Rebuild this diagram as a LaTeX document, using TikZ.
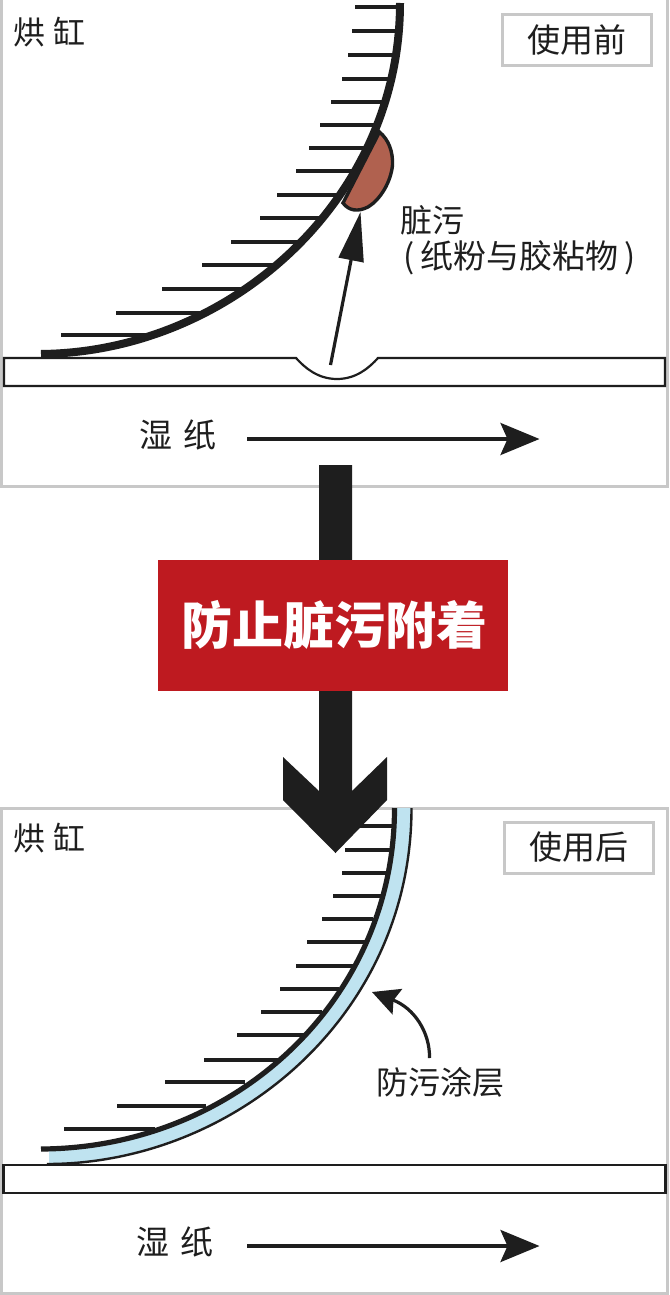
\documentclass[tikz,border=0pt]{standalone}
\usepackage{fontspec}
\setmainfont{Noto Sans CJK SC}
\usetikzlibrary{arrows.meta}
\definecolor{framegray}{HTML}{C8C8C8}
\definecolor{ink}{HTML}{1E1E1E}
\definecolor{dirt}{HTML}{B0614F}
\definecolor{banner}{HTML}{BE1A20}
\definecolor{coat}{HTML}{BFE3F0}
\tikzset{
  panel/.style={draw=framegray,line width=3pt,fill=white},
  tagbox/.style={draw=framegray,line width=3pt,fill=white},
  hatchline/.style={draw=ink,line width=3.2pt},
  paperstrip/.style={draw=ink,line width=2.4pt,fill=white},
  label/.style={inner sep=0pt,outer sep=0pt,text=ink,font=\fontsize{32}{32}\selectfont},
  biglabel/.style={label,font=\fontsize{33}{33}\selectfont},
  feed/.style={draw=ink,line width=3.5pt,-{Stealth[length=39pt,width=32pt,inset=7pt]}},
  lead/.style={draw=ink,line width=3.2pt},
}
\begin{document}
\begin{tikzpicture}[x=1pt,y=-1pt]
\useasboundingbox (0,0) rectangle (669,1295);
\fill[white] (0,0) rectangle (669,1295);
% ---------- top panel
\draw[panel] (1.5,-2) rectangle (667.5,486.5);
\node[tagbox,minimum width=149pt,minimum height=51pt,inner sep=0pt] (tagA) at (577,40.5) {};
\node[biglabel] (tagAtext) at (577,40) {使用前};
\node[label] (cylA) at (49,32) {烘\hspace{8pt}缸};
\foreach \y/\xa/\xb in {7/355/398,31/352/398,55/348/396,79/342/392,102/331/386,125/320/379,148/309/369,171/296/357,195/277/341,218/260/324,242/231/303,265/202/278,289/162/250,313/116/204,335/61/150}
  \draw[hatchline] (\xa,\y) -- (\xb,\y);
% dirt
\draw[fill=dirt,draw=ink,line width=3.4pt] (379.5,132) .. controls (389,140) and (393,152) .. (392.5,165)
   .. controls (391,182) and (380,200) .. (368,207) .. controls (358,212) and (349,211) .. (343,203) -- cycle;
% cylinder
\draw[draw=ink,line width=8pt] (400,3) .. controls (400,200) and (230,352) .. (41,354);
% paper with dent
\draw[paperstrip,line width=2.2pt] (4,358) -- (296,358) .. controls (305,368) and (318,379) .. (337,379)
   .. controls (356,379) and (369,368) .. (378,358) -- (665,358) -- (665,386) -- (4,386) -- cycle;
\coordinate (dentA) at (330.5,365);
\coordinate (dirtA) at (360.5,212);
\draw[lead,-{Triangle[length=49pt,width=25pt]}] (dentA) -- (dirtA);
\node[label] (dirtname) at (432,220) {脏污};
\node[biglabel] (dirtsub) at (519.5,258) {(\hspace{6pt}纸粉与胶粘物\hspace{6pt})};
\node[biglabel] (wetA) at (178,435) {湿\hspace{11pt}纸};
\coordinate (feedAs) at (247,439);
\coordinate (feedAe) at (539.5,439);
\draw[feed] (feedAs) -- (feedAe);
% ---------- bottom panel
\draw[panel] (1.5,808.5) rectangle (667.5,1293);
\node[tagbox,minimum width=149pt,minimum height=51pt,inner sep=0pt] (tagB) at (579,847.5) {};
\node[biglabel] (tagBtext) at (579,847) {使用后};
\node[label] (cylB) at (49,838) {烘\hspace{8pt}缸};
\foreach \y/\xa/\xb in {826/345/392,850/345/391,873/342/387,896/333/381,919/322/373,942/307/365,966/296/353,989/280/339,1012/261/322,1035/237/304,1060/204/278,1082/165/245,1106/117/206,1129/64/155}
  \draw[hatchline] (\xa,\y) -- (\xb,\y);
% coating band
\begin{scope}
\clip (49,800) rectangle (669,1200);
\fill[coat] (411.5,808) .. controls (411.5,1015) and (235,1164) .. (47,1164)
   -- (41,1149) .. controls (235,1148) and (394.5,1000) .. (394.5,808) -- cycle;
\end{scope}
\draw[draw=ink,line width=2.4pt] (411.5,808) .. controls (411.5,1015) and (235,1164) .. (47,1164);
\draw[draw=ink,line width=5.2pt] (394.5,808) .. controls (394.5,1000) and (235,1148) .. (41,1149);
\node[paperstrip,minimum width=662pt,minimum height=28pt,inner sep=0pt] (paperB) at (334.5,1179) {};
\node[label] (coatname) at (440,1082) {防污涂层};
\coordinate (coatS) at (429.5,1058);
\coordinate (coatT) at (372,992);
\draw[lead,-{Stealth[length=27pt,width=27pt,inset=4pt]}] (coatS) .. controls (430,1032) and (414,1008) .. (coatT);
\node[biglabel] (wetB) at (175,1242) {湿\hspace{11pt}纸};
\coordinate (feedBs) at (247,1246);
\coordinate (feedBe) at (539.5,1246);
\draw[feed] (feedBs) -- (feedBe);
% ---------- central arrow and banner
\fill[ink] (319,465) -- (352,465) -- (352,791) -- (387,757) -- (387,800) -- (335.5,853) -- (283,800) -- (283,757) -- (319,791) -- cycle;
\node[fill=banner,minimum width=350pt,minimum height=131pt,inner sep=0pt] (banner) at (333,625.5) {};
\node[inner sep=0pt,text=white,font=\fontsize{51}{51}\selectfont\bfseries] (bannertext) at (334.5,625) {防止脏污附着};
\end{tikzpicture}
\end{document}
